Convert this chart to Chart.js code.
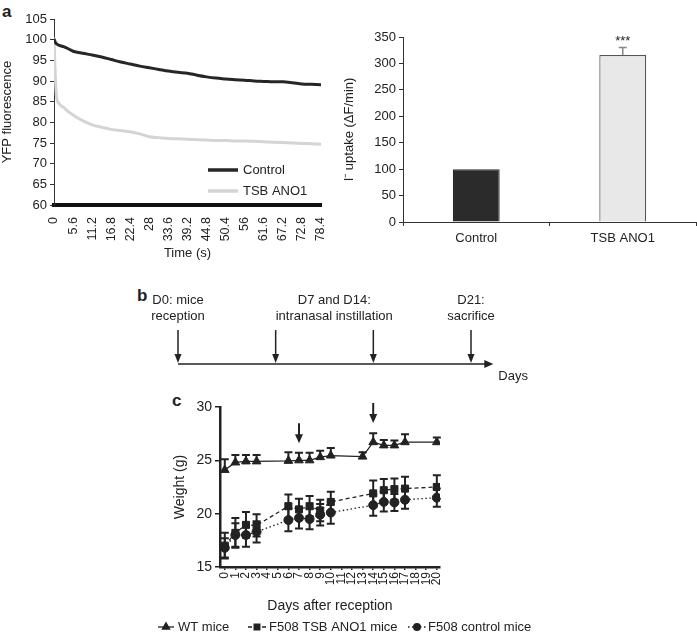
<!DOCTYPE html>
<html>
<head>
<meta charset="utf-8">
<script src="https://cdn.jsdelivr.net/npm/chart.js@4.4.1/dist/chart.umd.min.js"></script>
<style>
  body { margin: 0; background: #fff; width: 697px; height: 634px; position: relative; overflow: hidden;
         font-family: "Liberation Sans", Arial, Helvetica, sans-serif; }
  canvas { position: absolute; }
  .panel { position: absolute; font-weight: bold; font-size: 17px; line-height: 1; color: #222; }
</style>
</head>
<body>
<div class="panel" style="left:2px;top:3px">a</div>
<div class="panel" style="left:137px;top:287px">b</div>
<div class="panel" style="left:172px;top:392px">c</div>

<canvas id="fluo" width="340" height="262" style="left:0;top:0"></canvas>
<canvas id="uptake" width="357" height="262" style="left:340px;top:0"></canvas>
<canvas id="timeline" width="567" height="110" style="left:130px;top:280px"></canvas>
<canvas id="weight" width="567" height="244" style="left:130px;top:390px"></canvas>

<script>
// panel a, left: YFP fluorescence over time
var timeS = [0, 0.3, 0.7, 1.4, 2.8, 4.2, 5.6, 8.4, 11.2, 14, 16.8, 19.6, 22.4, 25.2, 28, 30.8, 33.6,
             36.4, 39.2, 42, 44.8, 47.6, 50.4, 53.2, 56, 58.8, 61.6, 64.4, 67.2, 70, 72.8, 75.6, 78.4]
var controlF = [100.2, 99.5, 99.0, 98.7, 98.3, 97.8, 97.2, 96.7, 96.3, 95.8, 95.2, 94.6, 94.1, 93.6, 93.2, 92.8, 92.4,
                92.1, 91.9, 91.4, 91.0, 90.7, 90.5, 90.3, 90.2, 90.0, 89.9, 89.8, 89.8, 89.6, 89.3, 89.2, 89.1]
var tsbF = [100.5, 93.0, 86.5, 84.6, 83.6, 82.6, 81.8, 80.4, 79.4, 78.8, 78.3, 78.0, 77.7, 77.2, 76.5, 76.3, 76.1,
            76.0, 75.9, 75.8, 75.7, 75.6, 75.6, 75.5, 75.5, 75.4, 75.3, 75.2, 75.1, 75.0, 74.9, 74.8, 74.7]
var timeTicks = [0, 5.6, 11.2, 16.8, 22.4, 28, 33.6, 39.2, 44.8, 50.4, 56, 61.6, 67.2, 72.8, 78.4]

// panel a, right: iodide uptake
var uptakeLabels = ['Control', 'TSB ANO1']
var uptakeValues = [100, 316]
var uptakeErr = [0, 14]
var uptakeStars = ['', '***']

// panel b: protocol timeline
var timelineDays = [0, 7, 14, 21]
var timelineNoteDays = [0, 11.2, 21]
var timelineNotes = [['D0: mice', 'reception'], ['D7 and D14:', 'intranasal instillation'], ['D21:', 'sacrifice']]

// panel c: body weight
var dayTicks = [0, 1, 2, 3, 4, 5, 6, 7, 8, 9, 10, 11, 12, 13, 14, 15, 16, 17, 18, 19, 20]
var wtDays = [0, 1, 2, 3, 6, 7, 8, 9, 10, 13, 14, 15, 16, 17, 20]
var wtMean = [24.1, 24.8, 24.9, 24.9, 24.95, 25.0, 25.0, 25.3, 25.45, 25.35, 26.7, 26.4, 26.4, 26.7, 26.7]
var wtErr = [1.0, 0.7, 0.6, 0.6, 0.8, 0.7, 0.7, 0.6, 0.7, 0.4, 0.85, 0.5, 0.45, 0.75, 0.45]
var f508Days = [0, 1, 2, 3, 6, 7, 8, 9, 10, 14, 15, 16, 17, 20]
var tsbMean = [17.0, 18.2, 18.95, 18.9, 20.7, 20.4, 20.7, 20.3, 21.1, 21.9, 22.2, 22.3, 22.35, 22.5]
var tsbErr = [1.2, 1.4, 1.2, 1.05, 1.1, 1.0, 0.95, 1.0, 0.95, 1.2, 1.05, 1.0, 1.1, 1.1]
var ctlMean = [16.8, 18.0, 18.0, 18.3, 19.4, 19.6, 19.5, 19.9, 20.1, 20.8, 21.1, 21.05, 21.3, 21.5]
var ctlErr = [0.9, 1.1, 1.1, 1.0, 1.05, 1.0, 0.95, 1.0, 1.05, 1.0, 0.9, 0.8, 0.85, 0.85]
var instillDays = [7, 14]
var instillTips = [26.6, 28.5]

Chart.defaults.font.family = '"Liberation Sans", Arial, Helvetica, sans-serif'
Chart.defaults.color = '#222'
Chart.defaults.animation = false
Chart.defaults.responsive = false
Chart.defaults.plugins.legend.display = false
Chart.defaults.plugins.tooltip.enabled = false

function xy(xs, ys) {
  return xs.map(function (x, i) { return { x: x, y: ys[i] } })
}

function arrowHead(ctx, x, y, dir, w, h) {
  ctx.beginPath()
  if (dir === 'down') {
    ctx.moveTo(x, y); ctx.lineTo(x - w / 2, y - h); ctx.lineTo(x + w / 2, y - h)
  } else {
    ctx.moveTo(x, y); ctx.lineTo(x - h, y - w / 2); ctx.lineTo(x - h, y + w / 2)
  }
  ctx.closePath()
  ctx.fill()
}

// ---------- panel a left ----------
var fluoLegend = {
  id: 'fluoLegend',
  afterDraw: function (chart) {
    var ctx = chart.ctx
    var items = chart.data.datasets
    ctx.save()
    ctx.font = '13px "Liberation Sans", Arial'
    ctx.textBaseline = 'middle'
    items.forEach(function (ds, i) {
      var y = 170 + i * 21
      ctx.strokeStyle = ds.borderColor
      ctx.lineWidth = 3.5
      ctx.beginPath(); ctx.moveTo(208, y); ctx.lineTo(238, y); ctx.stroke()
      ctx.fillStyle = '#222'
      ctx.fillText(ds.label, 243, y)
    })
    ctx.restore()
  }
}

new Chart(document.getElementById('fluo'), {
  type: 'line',
  data: {
    datasets: [
      { label: 'Control', data: xy(timeS, controlF), borderColor: '#262626', borderWidth: 3,
        pointRadius: 0, cubicInterpolationMode: 'monotone' },
      { label: 'TSB ANO1', data: xy(timeS, tsbF), borderColor: '#d4d4d4', borderWidth: 3,
        pointRadius: 0, cubicInterpolationMode: 'monotone' }
    ]
  },
  options: {
    layout: { padding: { left: 0, right: 17, top: 19, bottom: 0 } },
    scales: {
      x: {
        type: 'linear', min: 0, max: 78.4,
        afterBuildTicks: function (s) { s.ticks = timeTicks.map(function (v) { return { value: v } }) },
        afterFit: function (s) { s.height = 57 },
        ticks: { minRotation: 90, maxRotation: 90, font: { size: 12.5 }, padding: 4,
                 callback: function (v) { return String(v) } },
        grid: { display: false },
        border: { color: '#111', width: 4 },
        title: { display: true, text: 'Time (s)', font: { size: 13 }, padding: { top: 0, bottom: 1 } }
      },
      y: {
        min: 60, max: 105,
        afterFit: function (s) { s.width = 54 },
        ticks: { stepSize: 5, font: { size: 13 }, padding: 3 },
        grid: { drawOnChartArea: false, tickLength: 4, color: '#333' },
        border: { color: '#333' },
        title: { display: true, text: 'YFP fluorescence', font: { size: 13 }, padding: 0 }
      }
    }
  },
  plugins: [fluoLegend]
})

// ---------- panel a right ----------
var uptakeErrPlugin = {
  id: 'uptakeErr',
  afterDatasetsDraw: function (chart) {
    var ctx = chart.ctx
    var meta = chart.getDatasetMeta(0)
    var ys = chart.scales.y
    ctx.save()
    meta.data.forEach(function (bar, i) {
      if (uptakeErr[i] > 0) {
        var top = ys.getPixelForValue(uptakeValues[i] + uptakeErr[i])
        ctx.strokeStyle = '#888'
        ctx.lineWidth = 1.5
        ctx.beginPath()
        ctx.moveTo(bar.x, bar.y); ctx.lineTo(bar.x, top)
        ctx.moveTo(bar.x - 4, top); ctx.lineTo(bar.x + 4, top)
        ctx.stroke()
      }
      if (uptakeStars[i]) {
        ctx.fillStyle = '#222'
        ctx.font = '13px "Liberation Sans", Arial'
        ctx.textAlign = 'center'
        ctx.textBaseline = 'middle'
        ctx.fillText(uptakeStars[i], bar.x, ys.getPixelForValue(uptakeValues[i] + uptakeErr[i]) - 6)
      }
    })
    ctx.restore()
  }
}

new Chart(document.getElementById('uptake'), {
  type: 'bar',
  data: {
    labels: uptakeLabels,
    datasets: [{
      data: uptakeValues,
      backgroundColor: ['#2b2b2b', '#e8e8e8'],
      borderColor: ['#2b2b2b', '#555'],
      borderWidth: 1.2,
      barPercentage: 0.32,
      categoryPercentage: 1
    }]
  },
  options: {
    layout: { padding: { left: 0, right: 1, top: 37, bottom: 0 } },
    scales: {
      x: {
        afterFit: function (s) { s.height = 40 },
        ticks: { font: { size: 13 }, padding: 5 },
        grid: { drawOnChartArea: false, offset: true, tickLength: 4, color: '#333' },
        border: { color: '#333' }
      },
      y: {
        min: 0, max: 350,
        afterFit: function (s) { s.width = 63 },
        ticks: { stepSize: 50, font: { size: 13 }, padding: 3 },
        grid: { drawOnChartArea: false, tickLength: 4, color: '#333' },
        border: { color: '#333' },
        title: { display: true, text: 'I\u207B uptake (\u0394F/min)', font: { size: 13 }, padding: { top: 2, bottom: 0 } }
      }
    }
  },
  plugins: [uptakeErrPlugin]
})

// ---------- panel b ----------
var timelinePlugin = {
  id: 'timeline',
  afterDraw: function (chart) {
    var ctx = chart.ctx
    var xs = chart.scales.x
    var y0 = chart.scales.y.getPixelForValue(0)
    var endX = xs.getPixelForValue(22.6)
    ctx.save()
    ctx.strokeStyle = '#222'
    ctx.fillStyle = '#222'
    ctx.lineWidth = 1.5
    ctx.beginPath(); ctx.moveTo(xs.getPixelForValue(0), y0); ctx.lineTo(endX - 6, y0); ctx.stroke()
    arrowHead(ctx, endX, y0, 'right', 8, 9)
    timelineDays.forEach(function (d) {
      var x = xs.getPixelForValue(d)
      ctx.beginPath(); ctx.moveTo(x, y0 - 34); ctx.lineTo(x, y0 - 8); ctx.stroke()
      arrowHead(ctx, x, y0 - 1, 'down', 7, 9)
    })
    ctx.font = '13px "Liberation Sans", Arial'
    ctx.textAlign = 'center'
    ctx.textBaseline = 'middle'
    timelineNotes.forEach(function (lines, i) {
      var x = xs.getPixelForValue(timelineNoteDays[i])
      lines.forEach(function (t, j) { ctx.fillText(t, x, 20 + j * 16) })
    })
    ctx.textAlign = 'left'
    ctx.fillText('Days', endX + 5, y0 + 12)
    ctx.restore()
  }
}

new Chart(document.getElementById('timeline'), {
  type: 'scatter',
  data: { datasets: [{ data: timelineDays.map(function (d) { return { x: d, y: 0 } }), pointRadius: 0 }] },
  options: {
    layout: { padding: { left: 48, right: 226, top: 0, bottom: 26 } },
    scales: {
      x: { display: false, min: 0, max: 21 },
      y: { display: false, min: 0, max: 1 }
    }
  },
  plugins: [timelinePlugin]
})

// ---------- panel c ----------
var errorBars = {
  id: 'errorBars',
  beforeDatasetsDraw: function (chart) {
    var ctx = chart.ctx
    var ys = chart.scales.y
    ctx.save()
    ctx.strokeStyle = '#222'
    ctx.lineWidth = 2
    chart.data.datasets.forEach(function (ds, di) {
      var meta = chart.getDatasetMeta(di)
      meta.data.forEach(function (pt, i) {
        var v = ds.data[i].y
        var hi = ys.getPixelForValue(v + ds.err[i])
        var lo = ds.upOnly ? pt.y : ys.getPixelForValue(v - ds.err[i])
        ctx.beginPath()
        ctx.moveTo(pt.x, lo); ctx.lineTo(pt.x, hi)
        ctx.moveTo(pt.x - 4, hi); ctx.lineTo(pt.x + 4, hi)
        if (!ds.upOnly) { ctx.moveTo(pt.x - 4, lo); ctx.lineTo(pt.x + 4, lo) }
        ctx.stroke()
      })
    })
    ctx.restore()
  },
  afterDraw: function (chart) {
    var ctx = chart.ctx
    var xs = chart.scales.x
    var ys = chart.scales.y
    ctx.save()
    ctx.strokeStyle = '#222'
    ctx.fillStyle = '#222'
    ctx.lineWidth = 2
    instillDays.forEach(function (d, i) {
      var x = xs.getPixelForValue(d)
      var tip = ys.getPixelForValue(instillTips[i])
      ctx.beginPath(); ctx.moveTo(x, tip - 20); ctx.lineTo(x, tip - 6); ctx.stroke()
      arrowHead(ctx, x, tip, 'down', 8, 9)
    })
    // legend
    var items = [
      { x0: 28, x1: 44, tx: 48 },
      { x0: 118, x1: 136, tx: 139 },
      { x0: 278, x1: 296, tx: 298 }
    ]
    var y = 237
    ctx.font = '13px "Liberation Sans", Arial'
    ctx.textBaseline = 'middle'
    chart.data.datasets.forEach(function (ds, i) {
      var it = items[i]
      ctx.save()
      ctx.lineWidth = 1.3
      ctx.setLineDash(ds.borderDash || [])
      ctx.beginPath(); ctx.moveTo(it.x0, y); ctx.lineTo(it.x1, y); ctx.stroke()
      ctx.restore()
      Chart.helpers.drawPoint(ctx, { pointStyle: ds.pointStyle, radius: ds.pointRadius - 1.5, borderWidth: 1 },
        (it.x0 + it.x1) / 2, y)
      ctx.fillText(ds.label, it.tx, y)
    })
    ctx.restore()
  }
}

function weightSet(label, days, mean, err, style, radius, dash, upOnly) {
  return {
    label: label, data: xy(days, mean), err: err, upOnly: upOnly,
    borderColor: '#222', borderWidth: 1.3, borderDash: dash,
    pointStyle: style, pointRadius: radius,
    pointBackgroundColor: '#222', pointBorderColor: '#222', pointBorderWidth: 1
  }
}

new Chart(document.getElementById('weight'), {
  type: 'line',
  data: {
    datasets: [
      weightSet('WT mice', wtDays, wtMean, wtErr, 'triangle', 5, [], true),
      weightSet('F508 TSB ANO1 mice', f508Days, tsbMean, tsbErr, 'rect', 5, [4, 3], false),
      weightSet('F508 control mice', f508Days, ctlMean, ctlErr, 'circle', 4.5, [1.5, 2.5], false)
    ]
  },
  options: {
    layout: { padding: { left: 40, right: 257, top: 17, bottom: 18 } },
    scales: {
      x: {
        type: 'linear', min: -0.45, max: 20.3,
        afterBuildTicks: function (s) { s.ticks = dayTicks.map(function (v) { return { value: v } }) },
        afterFit: function (s) { s.height = 49 },
        ticks: { minRotation: 90, maxRotation: 90, autoSkip: false, font: { size: 12 }, padding: 2 },
        grid: { drawOnChartArea: false, tickLength: 3, color: '#222', lineWidth: 1.5 },
        border: { color: '#222', width: 2.5 },
        title: { display: true, text: 'Days after reception', font: { size: 14 }, padding: { top: 0, bottom: 1 } }
      },
      y: {
        min: 15, max: 30,
        afterFit: function (s) { s.width = 50 },
        ticks: { stepSize: 5, font: { size: 14 }, padding: 3 },
        grid: { drawOnChartArea: false, tickLength: 5, color: '#222', lineWidth: 1.5 },
        border: { color: '#222', width: 2.5 },
        title: { display: true, text: 'Weight (g)', font: { size: 14 }, padding: { top: 2, bottom: 0 } }
      }
    }
  },
  plugins: [errorBars]
})
</script>
</body>
</html>
